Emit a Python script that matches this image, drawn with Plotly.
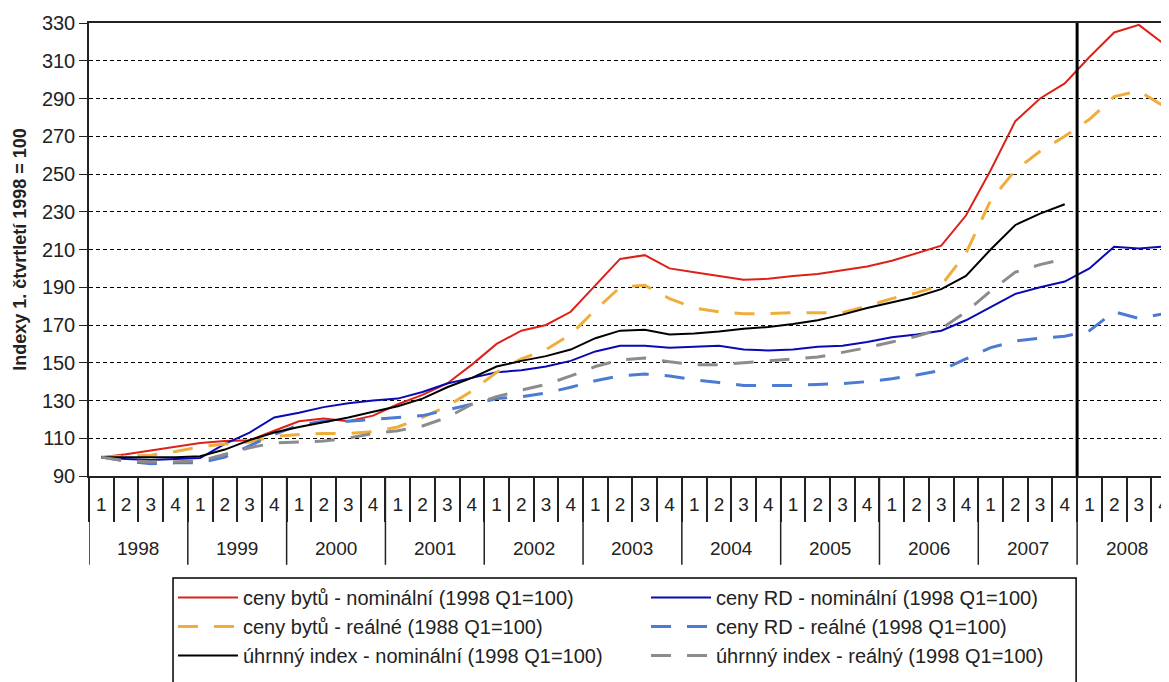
import plotly.graph_objects as go

YEARS = list(range(1998, 2009))
QUARTERS = ["1", "2", "3", "4"]

# ceny bytů - nominální
flats_nominal = [100, 101.5, 103.5, 105.5, 107.5, 108.5, 109, 114, 119, 120.5, 119, 122,
                 128, 133, 139, 149, 160, 167, 170, 177, 191, 205, 207, 200,
                 198, 196, 194, 194.5, 196, 197, 199, 201, 204, 208, 212, 228,
                 252, 278, 290, 298, 312, 325, 329, 319]
# ceny bytů - reálné
flats_real = [100, 100.5, 101, 103, 105.5, 107, 108, 111, 112, 112.5, 112.5, 113.5,
              116, 121, 127, 135, 145, 152, 157, 165, 178, 190, 191, 184,
              179, 177, 176, 176, 176.5, 176.5, 176.5, 180, 184, 187, 191, 208,
              236, 252, 262, 270, 279, 291, 294, 286]
# ceny RD - nominální
houses_nominal = [100, 99, 98.5, 99, 99.5, 107, 113, 121, 123.5, 126.5, 128.5, 130,
                  131, 134.5, 139, 142, 145, 146, 148, 151, 156, 159, 159, 158,
                  158.5, 159, 157, 156.5, 157, 158.5, 159, 161, 163.5, 165, 167, 172.5,
                  179.5, 186.5, 190, 193, 200, 211.5, 210.5, 211.5]
# ceny RD - reálné
houses_real = [100, 98, 96.5, 97, 97, 100, 106, 112, 117, 119, 119, 120,
               121, 122, 125, 128, 131, 132, 134, 137, 140.5, 143, 144, 143,
               141, 139.5, 138, 138, 138, 138.5, 139, 140, 141.5, 143.5, 146, 152,
               158, 161.5, 163, 164, 167, 177, 173.5, 176]
# úhrnný index - nominální (to 2007 Q4)
total_nominal = [100, 100, 100, 100, 100.5, 104, 109, 113, 116, 118.5, 121, 124,
                 127, 131, 137, 142, 148, 151, 153.5, 157, 163, 167, 167.5, 165,
                 165.5, 166.5, 168, 169, 170.5, 172.5, 175.5, 179, 182, 185, 189, 196,
                 210, 223, 229, 234]
# úhrnný index - reálný (to 2007 Q4)
total_real = [100, 98, 97.5, 97.5, 98, 101.5, 105, 107.5, 108, 108.5, 110, 112.5,
              114, 116.5, 121, 128, 132, 135.5, 138.5, 143, 148, 151.5, 152.5, 150.5,
              149, 149, 150, 151, 152, 153, 155.5, 158, 161, 164, 168, 177,
              188, 198, 202, 205]

FORECAST_START = "2008-1"

categories = [f"{y}-{q}" for y in YEARS for q in QUARTERS]
tick_text = [q for y in YEARS for q in QUARTERS]

FONT = "Liberation Sans, Arial, sans-serif"
INK = "#222222"

series = [
    ("ceny bytů - nominální (1998 Q1=100)", flats_nominal, "#DC2119", "solid", 2),
    ("ceny RD - nominální (1998 Q1=100)", houses_nominal, "#0A0AB4", "solid", 2),
    ("ceny bytů - reálné (1988 Q1=100)", flats_real, "#EFAE3C", "20px,16px", 3),
    ("ceny RD - reálné (1998 Q1=100)", houses_real, "#4B7BD2", "20px,16px", 3),
    ("úhrnný index - nominální (1998 Q1=100)", total_nominal, "#000000", "solid", 2),
    ("úhrnný index - reálný (1998 Q1=100)", total_real, "#8C8C8C", "20px,16px", 3),
]

fig = go.Figure()
for name, values, color, dash, width in series:
    fig.add_trace(go.Scatter(
        x=categories[:len(values)],
        y=values,
        name=name,
        mode="lines",
        line={"color": color, "dash": dash, "width": width},
    ))

# forecast divider
split = categories.index(FORECAST_START) - 0.5
fig.add_shape(type="line", xref="x", yref="y", x0=split, x1=split, y0=90, y1=330,
              line={"color": "black", "width": 3})

# year dividers and year labels below the quarter row
for k, year in enumerate(YEARS):
    left = k * len(QUARTERS) - 0.5
    fig.add_shape(type="line", xref="x", yref="paper", x0=left, x1=left, y0=0, y1=-0.196,
                  line={"color": INK, "width": 1.5})
    fig.add_annotation(x=left + len(QUARTERS) / 2, y=-0.159, xref="x", yref="paper",
                       text=str(year), showarrow=False, yanchor="middle",
                       font={"size": 19, "color": INK, "family": FONT})

# legend frame
fig.add_shape(type="rect", xref="paper", yref="paper", x0=0.0778, x1=0.914, y0=-0.2252, y1=-0.47,
              line={"color": "black", "width": 1.5}, fillcolor="rgba(0,0,0,0)")

fig.update_layout(
    width=1161,
    height=674,
    paper_bgcolor="white",
    plot_bgcolor="white",
    font={"family": FONT, "color": INK, "size": 19},
    margin={"l": 81, "r": 0, "t": 15, "b": 206},
    showlegend=True,
    legend={
        "orientation": "h",
        "xref": "container", "yref": "container",
        "x": 0.1421, "y": 0.1543, "xanchor": "left", "yanchor": "top",
        "borderwidth": 0,
        "bgcolor": "rgba(0,0,0,0)",
        "itemwidth": 60,
        "entrywidth": 398,
        "font": {"size": 20, "family": FONT, "color": INK},
        "traceorder": "normal",
    },
)

fig.update_xaxes(
    type="category",
    categoryorder="array",
    categoryarray=categories,
    tickvals=categories,
    ticktext=tick_text,
    range=[-0.5, 43.22],
    tickson="boundaries",
    ticks="outside",
    ticklen=44,
    tickwidth=1.5,
    tickcolor=INK,
    ticklabelstandoff=10,
    tickfont={"size": 19, "color": INK},
    showgrid=False,
    showline=True,
    linecolor=INK,
    linewidth=1.5,
    mirror=True,
)
fig.update_yaxes(
    range=[90, 330],
    dtick=20,
    tick0=90,
    ticks="outside",
    ticklen=8,
    tickcolor=INK,
    tickfont={"size": 20, "color": INK},
    showgrid=True,
    gridcolor="black",
    gridwidth=1,
    griddash="4px,3px",
    showline=True,
    linecolor=INK,
    linewidth=1.5,
    zeroline=False,
    title={"text": "<b>Indexy 1. čtvrtletí 1998 = 100</b>", "font": {"size": 18}, "standoff": 11},
)

fig.write_html("out.html")
